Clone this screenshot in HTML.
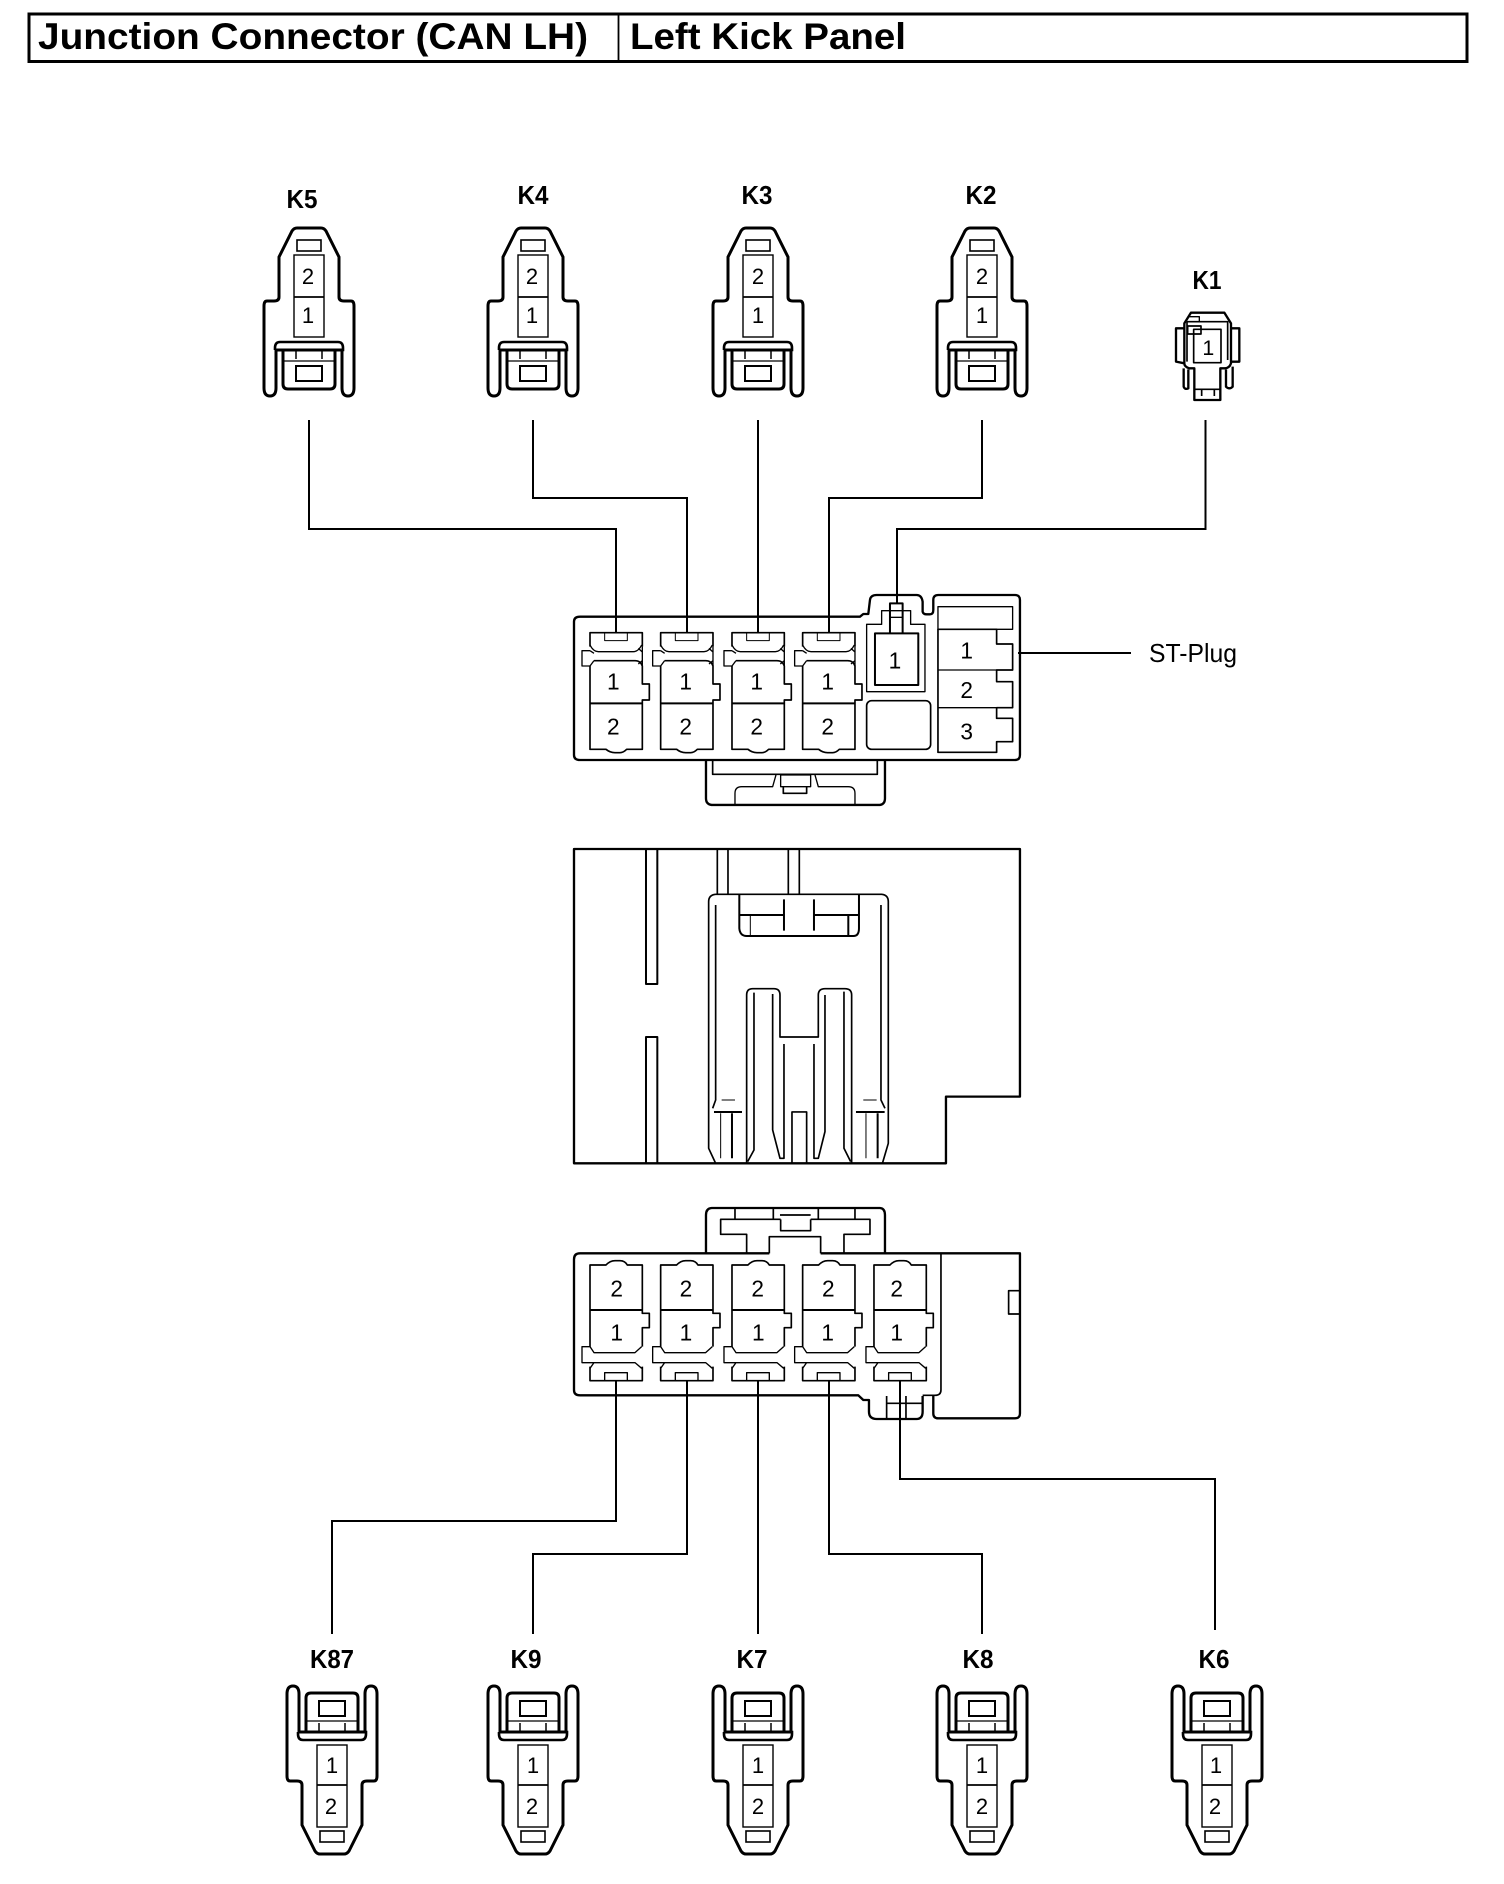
<!DOCTYPE html>
<html><head><meta charset="utf-8"><style>
html,body{margin:0;padding:0;background:#fff}
svg{display:block}
text{font-family:"Liberation Sans",sans-serif;fill:#000}
.b{font-weight:bold}
.n{font-size:68px;text-anchor:middle;dominant-baseline:central}
.z path,.z rect{fill:none;stroke:#000;stroke-linejoin:round}
</style></head><body>
<svg xmlns="http://www.w3.org/2000/svg" width="1504" height="1884" viewBox="0 0 1504 1884">
<defs>
<g id="sym" fill="none" stroke="#000">
<path stroke-width="3" d="M-12,0 H12 Q15,0 17,3 L30,29 V69 Q30,73 35,73 H42 Q45,73 45,78 V160 Q45,168 39,168 Q33,168 33,160 V122 H-33 V160 Q-33,168 -39,168 Q-45,168 -45,160 V78 Q-45,73 -42,73 H-35 Q-30,73 -30,69 V29 L-17,3 Q-15,0 -12,0 Z"/>
<path stroke-width="2.6" d="M-34,122 V120 Q-34,114 -29,114 H29 Q34,114 34,120 V122 H-34"/>
<path stroke-width="3" d="M-26,122 V156 Q-26,161 -21,161 H21 Q26,161 26,156 V122"/>
<path stroke-width="1.300" d="M-26,133 H26"/>
<path stroke-width="1.500" d="M-13,122 V131 M13,122 V131"/>
<rect x="-13" y="138" width="26" height="15" stroke-width="2"/>
<rect x="-15" y="27" width="30" height="82" stroke-width="1.400"/>
<path stroke-width="1.800" d="M-15,69 H15"/>
<rect x="-12" y="12" width="24" height="11" stroke-width="1.600"/>
</g>
<g id="cavT" fill="none" stroke="#000" stroke-linejoin="round">
<path stroke-width="5" d="M60,170 V128 H217 V170"/>
<path stroke-width="4" d="M60,165 Q70,185 85,185 H190 Q205,185 215,165"/>
<rect x="104" y="128" width="68" height="24" stroke-width="3"/>
<path stroke-width="4" d="M60,182 H36 V228 H60 L72,212 M60,182 L72,190 M217,170 V228 M205,175 L217,186 M205,222 L217,212"/>
<path stroke-width="5" d="M60,228 V478 H108 Q120,488 135,488 H150 Q160,488 170,478 H217 V330 H238 V282 H217 V228 Q212,212 195,212 H72"/>
<path stroke-width="6" d="M60,340 H217"/>
</g>
<g id="cavB" fill="none" stroke="#000" stroke-linejoin="round">
<path stroke-width="5" d="M60,410 V165 H108 Q120,152 135,152 H150 Q165,152 172,165 H217 V310 H238 V353 H217 V410"/>
<path stroke-width="6" d="M60,300 H217"/>
<path stroke-width="4" d="M60,410 H36 V458 H72 H195 L215,475 M60,475 L72,458 M60,410 L72,428 H195 L215,410"/>
<path stroke-width="5" d="M60,470 V512 H217 V470"/>
<rect x="104" y="488" width="68" height="24" stroke-width="4"/>
</g>
</defs>

<!-- header -->
<rect x="29" y="14" width="1438" height="47.500" fill="none" stroke="#000" stroke-width="3"/>
<path d="M618.500,14 V62" stroke="#000" stroke-width="1.800"/>
<text class="b" x="38" y="49" font-size="37" textLength="550" lengthAdjust="spacingAndGlyphs">Junction Connector (CAN LH)</text>
<text class="b" x="630" y="49" font-size="37" textLength="276" lengthAdjust="spacingAndGlyphs">Left Kick Panel</text>

<!-- labels -->
<g class="b" font-size="26" text-anchor="middle">
<text x="302" y="208" text-anchor="middle" textLength="31" lengthAdjust="spacingAndGlyphs">K5</text>
<text x="533" y="204" text-anchor="middle" textLength="31" lengthAdjust="spacingAndGlyphs">K4</text>
<text x="757" y="204" text-anchor="middle" textLength="31" lengthAdjust="spacingAndGlyphs">K3</text>
<text x="981" y="204" text-anchor="middle" textLength="31" lengthAdjust="spacingAndGlyphs">K2</text>
<text x="1207" y="289" text-anchor="middle" textLength="29" lengthAdjust="spacingAndGlyphs">K1</text>
<text x="332" y="1668" text-anchor="middle" textLength="44" lengthAdjust="spacingAndGlyphs">K87</text>
<text x="526" y="1668" text-anchor="middle" textLength="31" lengthAdjust="spacingAndGlyphs">K9</text>
<text x="752" y="1668" text-anchor="middle" textLength="31" lengthAdjust="spacingAndGlyphs">K7</text>
<text x="978" y="1668" text-anchor="middle" textLength="31" lengthAdjust="spacingAndGlyphs">K8</text>
<text x="1214" y="1668" text-anchor="middle" textLength="31" lengthAdjust="spacingAndGlyphs">K6</text>
</g>

<!-- top plugs -->
<use href="#sym" transform="translate(309,228)"/>
<use href="#sym" transform="translate(533,228)"/>
<use href="#sym" transform="translate(758,228)"/>
<use href="#sym" transform="translate(982,228)"/>
<g font-size="22" text-anchor="middle">
<text x="308" y="284">2</text><text x="308" y="323">1</text>
<text x="532" y="284">2</text><text x="532" y="323">1</text>
<text x="758" y="284">2</text><text x="758" y="323">1</text>
<text x="982" y="284">2</text><text x="982" y="323">1</text>
</g>

<!-- K1 -->
<g class="z" transform="translate(1161,260) scale(.3333)">
<path stroke-width="7" d="M90,158 H190 L210,190 V310 Q205,325 190,325 H178 V420 H100 V325 H85 Q70,320 70,310 V190 Z"/>
<path stroke-width="7" d="M70,205 H45 V305 L70,310 M210,205 H235 V305 H210"/>
<path stroke-width="7" d="M68,325 V380 Q72,390 82,385 V328 M195,328 V380 Q205,390 215,380 V320"/>
<path stroke-width="5" d="M78,185 H200 V300 M78,185 V305"/>
<rect x="98" y="208" width="82" height="100" stroke-width="5"/>
<rect x="80" y="198" width="40" height="24" stroke-width="5"/>
<path stroke-width="4" d="M85,170 H115 V185"/>
<path stroke-width="5" d="M100,388 H178 M122,388 V408 M160,388 V408"/>
<text x="142" y="285" font-size="64" text-anchor="middle">1</text>
</g>

<!-- wires -->
<g fill="none" stroke="#000" stroke-width="2">
<path d="M309,420 V529 H616 V632"/>
<path d="M533,420 V498 H687 V632"/>
<path d="M758,420 V632"/>
<path d="M982,420 V498 H829 V632"/>
<path d="M1205.500,420 V529 H897 V603"/>
<path d="M1018,653 H1131"/>
<path d="M616,1381 V1521 H332 V1634"/>
<path d="M687,1381 V1554 H533 V1634"/>
<path d="M758,1381 V1634"/>
<path d="M829,1381 V1554 H982 V1634"/>
<path d="M900,1381 V1479 H1215 V1630"/>
</g>
<text x="1149" y="662" font-size="26" textLength="88" lengthAdjust="spacingAndGlyphs">ST-Plug</text>

<!-- top housing -->
<g class="z" transform="translate(570,590) scale(.3333)">
<path stroke-width="7" d="M30,80 H870 L880,72 H895 L900,30 Q902,15 920,15 H1040 Q1055,15 1058,35 V65 Q1060,73 1070,73 H1080 Q1090,73 1090,60 V30 Q1090,15 1105,15 H1335 Q1350,15 1350,30 V495 Q1350,510 1335,510 H30 Q12,510 12,495 V95 Q12,80 30,80 Z"/>
<path stroke-width="7" d="M408,510 V625 Q408,645 430,645 H925 Q945,645 945,625 V510"/>
<path stroke-width="5" d="M428,510 V553 H922 V510"/>
<path stroke-width="4" d="M495,642 V610 Q495,590 515,590 H608 L618,555 M735,555 L745,590 H835 Q855,590 855,610 V642"/>
<rect x="632" y="555" width="90" height="35" stroke-width="4"/>
<path stroke-width="5" d="M640,590 V610 H710 V590"/>
<use href="#cavT"/>
<use href="#cavT" x="212"/>
<use href="#cavT" x="426"/>
<use href="#cavT" x="638"/>
<path stroke-width="4" d="M890,305 V103 H935 V62 H1022 V103 H1065 V305 Z"/>
<rect x="915" y="130" width="130" height="155" stroke-width="6"/>
<path stroke-width="6" d="M960,128 V40 H998 V128"/>
<path stroke-width="4" d="M960,82 H998"/>
<rect x="890" y="332" width="192" height="146" rx="15" stroke-width="5"/>
<rect x="1104" y="50" width="224" height="68" stroke-width="4"/>
<path stroke-width="5" d="M1104,118 H1280 V162 H1328 V240 H1280 V275 H1328 V353 H1280 V385 H1328 V455 H1280 V487 H1104 Z"/>
<path stroke-width="4" d="M1104,240 H1280 M1104,353 H1280"/>
<g>
<text class="n" x="130" y="275">1</text><text class="n" x="130" y="410">2</text>
<text class="n" x="347" y="275">1</text><text class="n" x="347" y="410">2</text>
<text class="n" x="560" y="275">1</text><text class="n" x="560" y="410">2</text>
<text class="n" x="773" y="275">1</text><text class="n" x="773" y="410">2</text>
<text class="n" x="975" y="212">1</text>
<text class="n" x="1190" y="182">1</text><text class="n" x="1190" y="300">2</text><text class="n" x="1190" y="425">3</text>
</g>
</g>

<!-- middle housing -->
<g class="z" transform="translate(570,850) scale(.3333)">
<path stroke-width="7" d="M12,-3 H1350 V740 H1128 V940 H12 Z"/>
<path stroke-width="6" d="M228,-3 V402 H262 V-3 M228,940 V561 H262 V940"/>
<path stroke-width="5" d="M442,-3 V133 M474,-3 V133 M655,-3 V133 M688,-3 V133"/>
<path stroke-width="5" d="M437,133 H935 Q955,135 955,155 V880 L938,938 M437,133 Q416,135 416,155 V895 L436,938"/>
<path stroke-width="5" d="M437,165 V750 L428,775 M933,165 V750 L945,775"/>
<path stroke-width="6" d="M508,133 V235 Q510,258 530,258 H850 Q867,258 867,235 V133"/>
<path stroke-width="6" d="M508,195 H640 M735,195 H867 M642,148 V242 M732,148 V242 M835,195 V258"/>
<path stroke-width="3" d="M541,195 V258"/>
<path stroke-width="5" d="M530,938 V435 Q530,416 548,416 H612 Q630,416 630,435 V561 H745 V435 Q745,416 765,416 H825 Q845,416 845,435 V938"/>
<path stroke-width="5" d="M552,428 V900 L533,935 M608,432 V840 L630,925 H642 V582 M732,582 V925 H745 L765,845 V435 M822,425 V895 L842,935"/>
<path stroke-width="5" d="M666,940 V786 H710 V940"/>
<path stroke-width="6" d="M432,786 H516 M858,786 H944 M486,790 V925 M923,790 V925"/>
<path stroke-width="3" d="M455,750 H495 M880,750 H920"/>
<path stroke-width="3" d="M452,790 V925 M888,790 V925"/>
</g>

<!-- bottom housing -->
<g class="z" transform="translate(570,1210) scale(.3333)">
<path stroke-width="7" d="M408,130 V15 Q408,-5 425,-6 H930 Q945,-5 945,15 V130"/>
<path stroke-width="5" d="M495,-6 V28 H452 V73 H530 V130 M855,-6 V28 H900 V73 H822 V130 M495,28 H632 M722,28 H855 M610,-6 V28 M745,-6 V28"/>
<path stroke-width="5" d="M632,28 V62 H722 V28 M630,15 H722 M598,130 V80 H752 V130"/>
<path stroke-width="7" d="M598,130 H30 Q12,130 12,148 V540 Q12,556 30,556 H865 L880,570 H897 V605 Q897,627 920,627 H1040 Q1058,627 1058,605 V558"/>
<path stroke-width="7" d="M752,130 H1350 V610 Q1350,625 1335,625 H1105 Q1090,625 1090,610 V558"/>
<path stroke-width="5" d="M1113,130 V540 Q1113,556 1095,556 H1058"/>
<path stroke-width="5" d="M950,558 V627 M1008,558 V627 M950,580 H1058"/>
<rect x="1316" y="242" width="34" height="70" stroke-width="5"/>
<use href="#cavB"/>
<use href="#cavB" x="212"/>
<use href="#cavB" x="426"/>
<use href="#cavB" x="638"/>
<use href="#cavB" x="852"/>
<g>
<text class="n" x="140" y="235">2</text><text class="n" x="140" y="367">1</text>
<text class="n" x="348" y="235">2</text><text class="n" x="348" y="367">1</text>
<text class="n" x="563" y="235">2</text><text class="n" x="565" y="367">1</text>
<text class="n" x="775" y="235">2</text><text class="n" x="773" y="367">1</text>
<text class="n" x="980" y="235">2</text><text class="n" x="980" y="367">1</text>
</g>
</g>

<!-- bottom plugs -->
<use href="#sym" transform="translate(332,1854) scale(1,-1)"/>
<use href="#sym" transform="translate(533,1854) scale(1,-1)"/>
<use href="#sym" transform="translate(758,1854) scale(1,-1)"/>
<use href="#sym" transform="translate(982,1854) scale(1,-1)"/>
<use href="#sym" transform="translate(1217,1854) scale(1,-1)"/>
<g font-size="22" text-anchor="middle">
<text x="332" y="1773">1</text><text x="331" y="1814">2</text>
<text x="533" y="1773">1</text><text x="532" y="1814">2</text>
<text x="758" y="1773">1</text><text x="758" y="1814">2</text>
<text x="982" y="1773">1</text><text x="982" y="1814">2</text>
<text x="1216" y="1773">1</text><text x="1215" y="1814">2</text>
</g>
</svg>
</body></html>
